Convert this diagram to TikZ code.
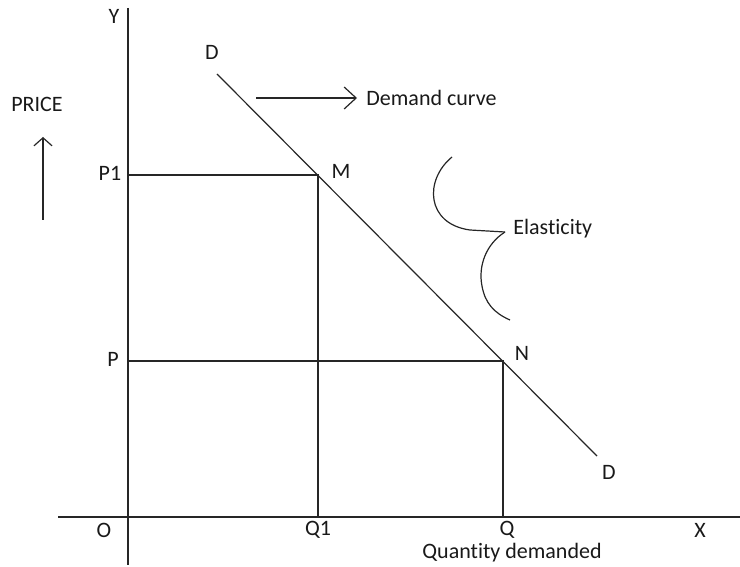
\documentclass[tikz,border=0pt]{standalone}
\usepackage{fontspec}
\setmainfont{Carlito}[Ligatures=NoCommon]
\usetikzlibrary{positioning, arrows.meta, calc}

\begin{document}
\begin{tikzpicture}[x=0.5pt,y=-0.5pt,font=\fontsize{11}{13}\selectfont,
  ln/.style={draw=black!85,line width=0.6pt},
  lb/.style={inner sep=0pt,text=black!90},
  ar/.style={ln,-{Straight Barb[length=6pt,width=11pt]}}]
  \useasboundingbox (0,0) rectangle (740,567);
  % axes
  \coordinate (yt) at (128,8);
  \coordinate (yb) at (128,565);
  \coordinate (xl) at (58,517);
  \coordinate (xr) at (740,517);
  \draw[ln] (yt)--(yb);
  \draw[ln] (xl)--(xr);
  % demand line and points
  \coordinate (d1) at (217,74);
  \coordinate (d2) at (597,456);
  \coordinate (m) at (318,175);
  \coordinate (n) at (503,361);
  \coordinate (p1) at (128,175);
  \coordinate (p) at (128,361);
  \coordinate (q1) at (318,517);
  \coordinate (q) at (503,517);
  \draw[ln] (d1)--(d2);
  \draw[ln] (p1)--(m)--(q1);
  \draw[ln] (p)--(n)--(q);
  % labels
  \node[lb] (ly) at (114,16) {Y};
  \node[lb] (ld1) at (212,52) {D};
  \node[lb] (lm) at (341,171) {M};
  \node[lb] (ln) at (522,353) {N};
  \node[lb] (ld2) at (609,472) {D};
  \node[lb] (lp1) at (110,173) {P1};
  \node[lb] (lp) at (113,359) {P};
  \node[lb] (lo) at (104,530) {O};
  \node[lb] (lq1) at (318,530) {Q1};
  \node[lb] (lq) at (507,530) {Q};
  \node[lb] (lx) at (700,530) {X};
  \node[lb] (lqd) at (512,553) {Quantity demanded};
  \node[lb] (lpr) at (37,104) {PRICE};
  \node[lb,anchor=west] (ldc) at (366,98) {Demand curve};
  \node[lb,anchor=west] (lel) at (513,229) {Elasticity};
  % arrows
  \coordinate (a1) at (256,98);
  \coordinate (a2) at (357,98);
  \draw[ar] (a1)--(a2);
  \coordinate (pa1) at (43,220);
  \coordinate (pa2) at (43,137);
  \draw[ln,-{Straight Barb[length=4pt,width=9pt]}] (pa1)--(pa2);
  % elasticity brace
  \coordinate (b1) at (452,157);
  \coordinate (b2) at (505,232);
  \coordinate (b3) at (510,320);
  \draw[ln] (b1) .. controls (424,180) and (426,224) .. (470,230) -- (b2);
  \draw[ln] (b2) .. controls (486,244) and (478,266) .. (482,286)
    .. controls (485,303) and (494,313) .. (b3);
\end{tikzpicture}
\end{document}
